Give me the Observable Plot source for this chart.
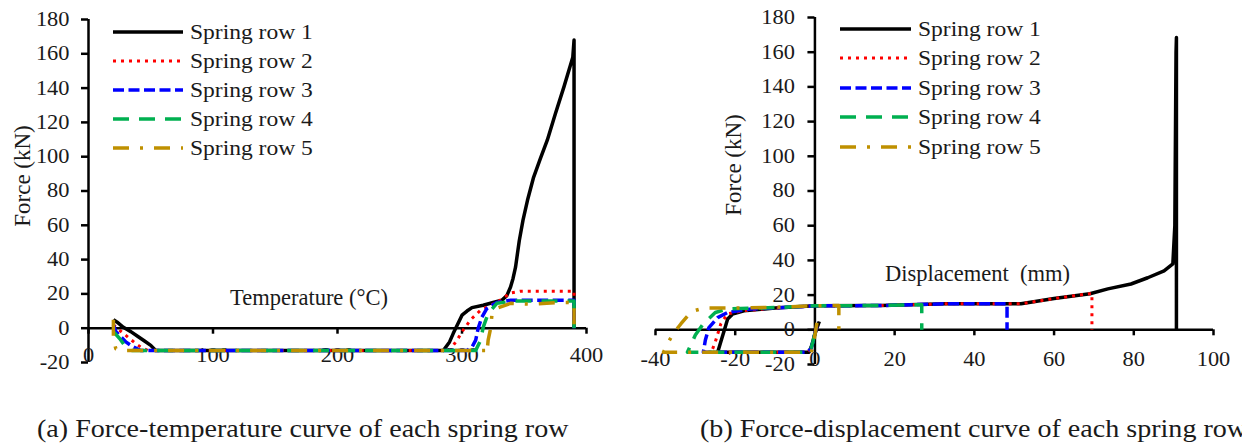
<!DOCTYPE html>
<html>
<head>
<meta charset="utf-8">
<script src="https://cdn.jsdelivr.net/npm/d3@7"></script>
<script src="https://cdn.jsdelivr.net/npm/@observablehq/plot@0.6"></script>
<style>
  html, body { margin: 0; padding: 0; background: #fff; }
  #wrap { position: relative; width: 1242px; height: 446px; overflow: hidden; background: #fff; }
  #wrap > svg { position: absolute; top: 0; }
</style>
</head>
<body>
<div id="wrap"></div>
<script>
// Spring force (kN) against temperature (°C), one array of [temperature, force] per spring row
const tempRow1 = [[20,5],[23,3.5],[28,0.5],[34,-2],[40,-5],[45,-7.5],[50,-10],[54,-13],[100,-13],[200,-13],[285,-13],
  [290,-8],[293,-3],[300,7.6],[304,10],[308,12],[317,13.4],[325,15],[332,16.3],[336,19],[339,24],[341,29],[343,35.6],
  [346,51],[349,63],[352.6,74.6],[357.5,88],[363,99],[368.5,109.6],[375,125],[382,141],[389,158],[390,168],[390,0]];
const tempRow2 = [[20,2],[23,0],[28,-3],[33,-6],[38,-9],[43,-11.5],[48,-13],[100,-13],[200,-13],[290,-13],[293,-10],
  [296,-7],[301,-1],[307,5],[315,10.5],[322,13],[328,15],[334,18],[339,20.5],[347,21.6],[370,21.6],[390,21.6],[390,0]];
const tempRow3 = [[20,2],[22,-2],[26,-5],[30,-8],[35,-10.5],[42,-13],[100,-13],[200,-13],[304,-13],[308,-11],[311,-7],
  [313,0],[316,6.5],[320,11.5],[328,15],[339,16.3],[390,16.3],[390,0]];
const tempRow4 = [[20,-2],[25,-6],[30,-11],[35,-13],[100,-13],[200,-13],[311,-13],[313,-10],[315,-7],[317,0.5],[321,8.6],
  [328,14.5],[341,15.8],[390,15.8],[390,0]];
const tempRow5 = [[20,5],[20,-7],[22,-12],[26,-13],[100,-13],[200,-13],[319,-13],[320,-14.5],[321,-7],[323,0],[324,7.6],
  [328,11.6],[339,14.5],[357,14],[377,15],[389,15],[390,15],[390,0]];

// Spring force (kN) against displacement (mm), one array of [displacement, force] per spring row
const dispRow1 = [[1.1,4.8],[0.5,1],[-0.2,-4],[-0.8,-9],[-1.5,-13],[-5,-13],[-15,-13],[-24.4,-13],[-23.5,-6],[-22.7,0],
  [-21.9,6.2],[-20.7,9],[-17.8,11],[-10,12.5],[0,13.8],[16.6,14],[33,15],[51.7,15],[60,18],[69,20.8],[73.5,23.6],
  [79.3,26.4],[83.5,30],[87.6,34],[89.8,38],[90.3,60],[90.4,95],[90.6,160],[90.7,168.5],[90.7,0]];
const dispRow2 = [[0.5,2],[0,-2],[-0.5,-7],[-1,-11],[-2,-13],[-15,-13],[-26,-13],[-25,-7],[-23.6,3.5],[-21.9,9.2],
  [-18,11],[-10,12.5],[0,13.8],[16.6,14],[33,15],[51.7,15],[60,18],[69.5,21],[69.5,0]];
const dispRow3 = [[0.5,2],[0,-2],[-0.5,-7],[-1,-11],[-2,-13],[-15,-13],[-28,-13],[-27.5,-6],[-26.6,1.3],[-24.4,7],
  [-21.9,10],[-16,12],[0,13.8],[16.6,14],[33,15],[48.2,15],[48.2,0]];
const dispRow4 = [[0,-2],[-0.5,-7],[-1,-11],[-2,-13],[-15,-13],[-32,-13],[-30,-3],[-28,3.5],[-25,10],[-22,12],
  [-10,12.8],[0,13.8],[16.6,14],[26.8,14.5],[26.8,0]];
const dispRow5 = [[0.5,4],[0,-3],[-0.5,-10],[-1,-13],[-15,-13],[-38,-13],[-37,-8],[-35.5,-2],[-33.6,3.5],[-31,10.5],
  [-28,12.5],[-22,12.5],[-10,13],[0,13.8],[6,14],[6,0]];

const seriesNames = ["Spring row 1", "Spring row 2", "Spring row 3", "Spring row 4", "Spring row 5"];
const tempTicks = [0, 100, 200, 300, 400];
const dispTicks = [-40, -20, 0, 20, 40, 60, 80, 100];
const forceTicks = [-20, 0, 20, 40, 60, 80, 100, 120, 140, 160, 180];

// Line styles per spring row
const seriesColors = ["#000000", "#ff0000", "#0000ff", "#00b050", "#bf9000"];
const seriesDash = [null, "3,5", "11,4.5", "16,10", "16,11,3,11"];
const seriesWidth = [3.5, 3, 3.5, 3.5, 3.5];

const FONT = '"Liberation Serif", "Times New Roman", serif';
const INK = "#1a1a1a";
const TICK_FONT = 20;
const TICK_STRETCH = 1.12;

function lineStyle(i) {
  const o = {stroke: seriesColors[i], strokeWidth: seriesWidth[i], strokeLinejoin: "round", strokeLinecap: "butt"};
  if (seriesDash[i]) o.strokeDasharray = seriesDash[i];
  return o;
}

// One panel: axes crossing at the origin, Excel style, with the curves on top
function panel({series, xDomain, xTicks, width, height, marginLeft, marginRight, marginTop, marginBottom, xLabelDy, yLabelDx}) {
  const axis = {stroke: "#000", strokeWidth: 2.5};
  const svg = Plot.plot({
    width, height, marginLeft, marginRight, marginTop, marginBottom,
    x: {domain: xDomain, axis: null},
    y: {domain: [-20, 180], axis: null},
    style: {background: "transparent", fontFamily: FONT, overflow: "visible"},
    marks: [
      Plot.ruleY([0], axis),
      Plot.ruleX([0], axis),
      Plot.ruleX(xTicks, {x: d => d, y1: () => 0, y2: () => 0, insetBottom: -6, ...axis}),
      Plot.ruleY(forceTicks, {y: d => d, x1: () => 0, x2: () => 0, insetLeft: -7, ...axis}),
      Plot.text(forceTicks, {x: () => 0, y: d => d, dx: yLabelDx, textAnchor: "end", text: d => String(d),
        fontSize: TICK_FONT, fill: INK}),
      Plot.text(xTicks, {x: d => d, y: () => 0, dy: xLabelDy, text: d => String(d), fontSize: TICK_FONT, fill: INK}),
      ...series.map((rows, i) => Plot.line(rows, {x: d => d[0], y: d => d[1], ...lineStyle(i)}))
    ]
  });
  // widen the tick labels about their anchor point
  d3.select(svg).selectAll("text").each(function () {
    const t = this.getAttribute("transform") || "";
    this.setAttribute("transform", `${t} scale(${TICK_STRETCH},1)`);
  });
  return svg;
}

const wrap = document.getElementById("wrap");

const left = panel({
  series: [tempRow1, tempRow2, tempRow3, tempRow4, tempRow5],
  xDomain: [0, 400], xTicks: tempTicks,
  width: 600, height: 377, marginLeft: 88, marginRight: 14, marginTop: 19, marginBottom: 15,
  xLabelDy: 27, yLabelDx: -19
});
left.style.left = "0px";
wrap.appendChild(left);

const right = panel({
  series: [dispRow1, dispRow2, dispRow3, dispRow4, dispRow5],
  xDomain: [-40, 100], xTicks: dispTicks,
  width: 613, height: 379, marginLeft: 35, marginRight: 20, marginTop: 17, marginBottom: 15,
  xLabelDy: 30, yLabelDx: -20
});
right.style.left = "620px";
wrap.appendChild(right);

// Titles, legends and captions
const over = d3.create("svg")
  .attr("width", 1242).attr("height", 446)
  .style("left", "0px").style("pointer-events", "none")
  .style("font-family", FONT).attr("fill", INK);

function legend(x0, x1, xText, ys) {
  const g = over.append("g");
  seriesNames.forEach((name, i) => {
    const s = lineStyle(i);
    g.append("line").attr("x1", x0).attr("x2", x1).attr("y1", ys[i]).attr("y2", ys[i])
      .attr("stroke", s.stroke).attr("stroke-width", s.strokeWidth)
      .attr("stroke-dasharray", s.strokeDasharray || null);
    g.append("text").attr("transform", `translate(${xText},${ys[i]}) scale(1.07,1)`)
      .attr("dominant-baseline", "central").attr("font-size", 22).text(name);
  });
}
legend(113, 183, 190, [32, 61, 90, 119, 148]);
legend(840, 911, 918, [29, 58, 88, 117, 147]);

function label(x, y, text, opts = {}) {
  const t = over.append("text")
    .attr("transform", `translate(${x},${y})${opts.rotate ? ` rotate(${opts.rotate})` : ""}`)
    .attr("text-anchor", opts.anchor || "start")
    .attr("dominant-baseline", opts.baseline || "central")
    .attr("font-size", opts.size || 22)
    .style("white-space", "pre")
    .text(text);
  return t;
}
label(230, 297, "Temperature (°C)", {size: 22.5});
label(885, 273, "Displacement  (mm)", {size: 22.5});
label(22, 176, "Force (kN)", {rotate: -90, anchor: "middle", size: 23});
label(733, 165, "Force (kN)", {rotate: -90, anchor: "middle", size: 23});

over.append("text").attr("transform", "translate(37,437) scale(1.08,1)").attr("font-size", 26)
  .text("(a) Force-temperature curve of each spring row");
over.append("text").attr("transform", "translate(700,437) scale(1.08,1)").attr("font-size", 26)
  .text("(b) Force-displacement curve of each spring row");

wrap.appendChild(over.node());
</script>
</body>
</html>
